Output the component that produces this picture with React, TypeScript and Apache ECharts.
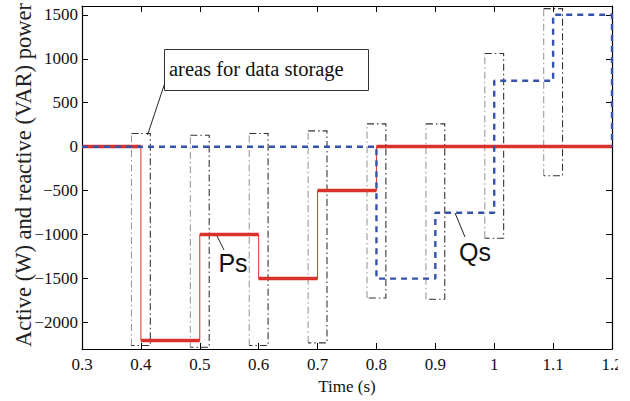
import React, { useEffect, useRef } from "react";
import * as echarts from "echarts";

// Active power Ps: value holds from psTimes[i] to psTimes[i+1]
const psTimes = [0.3, 0.4, 0.5, 0.6, 0.7, 0.8, 1.2];
const psValues = [0, -2200, -1000, -1500, -500, 0, 0];

// Reactive power Qs
const qsTimes = [0.3, 0.8, 0.9, 1.0, 1.1, 1.2, 1.2];
const qsValues = [0, -1500, -750, 750, 1500, 1500, 0];

// "areas for data storage" boxes (time centre, half width, top, bottom)
const boxCenters = [0.4, 0.5, 0.6, 0.7, 0.8, 0.9, 1.0, 1.1];
const boxHalfWidth = 0.016;
const boxTops = [150, 130, 150, 180, 260, 260, 1060, 1570];
const boxBottoms = [-2260, -2280, -2260, -2230, -1720, -1735, -1040, -330];

const yTickValues = [-2000, -1500, -1000, -500, 0, 500, 1000, 1500];

const RED = "#d9322b";
const BLUE = "#3553aa";
const SERIF = "Liberation Serif";
const SANS = "Liberation Sans";

const tickRich = { t: { fontFamily: SERIF, fontSize: 17, color: "#111" } };

export default function App() {
  const ref = useRef<HTMLDivElement>(null);

  useEffect(() => {
    if (!ref.current) return;
    const chart = echarts.init(ref.current, null, { renderer: "svg" });

    const psThin = psTimes.map((t, i) => [t, psValues[i]]);
    const psThick = psTimes.slice(0, -1).map((t, i) => ({
      coords: [
        [t, psValues[i]],
        [psTimes[i + 1], psValues[i]],
      ],
    }));
    const qsData = qsTimes.map((t, i) => [t, qsValues[i]]);

    const boxDark = boxCenters.map((c, i) => ({
      coords: [
        [c - boxHalfWidth, boxTops[i]],
        [c + boxHalfWidth, boxTops[i]],
        [c + boxHalfWidth, boxBottoms[i]],
        [c - boxHalfWidth, boxBottoms[i]],
      ],
    }));
    const boxLight = boxCenters.map((c, i) => ({
      coords: [
        [c - boxHalfWidth, boxBottoms[i]],
        [c - boxHalfWidth, boxTops[i]],
      ],
    }));

    const commonX = {
      type: "value" as const,
      min: 0.3,
      max: 1.2,
      interval: 0.1,
      splitLine: { show: false },
      axisLine: { show: true, onZero: false, lineStyle: { color: "#000", width: 1.2 } },
      axisTick: { show: true, inside: true, length: 6, lineStyle: { color: "#000" } },
    };
    const commonY = {
      type: "value" as const,
      min: -2300,
      max: 1600,
      interval: 100,
      splitLine: { show: false },
      axisLine: { show: true, onZero: false, lineStyle: { color: "#000", width: 1.2 } },
      axisTick: {
        show: true,
        inside: true,
        length: 6,
        customValues: yTickValues,
        lineStyle: { color: "#000" },
      },
    };

    chart.setOption({
      animation: false,
      backgroundColor: "#fff",
      grid: { left: 82, top: 6, right: 18, bottom: 52 },
      xAxis: [
        {
          ...commonX,
          position: "bottom",
          axisLabel: {
            show: true,
            margin: 7,
            formatter: (v: number) => "{t|" + String(Math.round(v * 10) / 10) + "}",
            rich: tickRich,
          },
        },
        {
          ...commonX,
          position: "top",
          axisLabel: { show: false },
        },
      ],
      yAxis: [
        {
          ...commonY,
          position: "left",
          axisLabel: {
            show: true,
            margin: 4,
            customValues: yTickValues,
            formatter: (v: number) =>
              "{t|" + (v < 0 ? "\u2212" + Math.abs(v) : String(v)) + "}",
            rich: tickRich,
          },
        },
        {
          ...commonY,
          position: "right",
          axisLabel: { show: false },
        },
      ],
      series: [
        {
          type: "lines",
          coordinateSystem: "cartesian2d",
          polyline: true,
          silent: true,
          z: 1,
          lineStyle: { color: "#9a9a9a", width: 1.1, type: [7, 3, 1.5, 3], opacity: 1 },
          data: boxLight,
        },
        {
          type: "lines",
          coordinateSystem: "cartesian2d",
          polyline: true,
          silent: true,
          z: 1,
          lineStyle: { color: "#333", width: 1.1, type: [7, 3, 1.5, 3], opacity: 1 },
          data: boxDark,
        },
        {
          type: "line",
          step: "end",
          data: psThin,
          symbol: "none",
          z: 2,
          silent: true,
          lineStyle: { color: RED, width: 1 },
        },
        {
          type: "lines",
          coordinateSystem: "cartesian2d",
          silent: true,
          z: 3,
          lineStyle: { color: RED, width: 3.4, opacity: 1 },
          data: psThick,
        },
        {
          type: "line",
          step: "end",
          data: qsData,
          symbol: "none",
          clip: false,
          z: 4,
          silent: true,
          lineStyle: { color: BLUE, width: 2.4, type: [6, 5] },
        },
      ],
      graphic: [
        {
          type: "text",
          x: 23,
          y: 175,
          rotation: Math.PI / 2,
          style: {
            text: "Active (W) and reactive (VAR) power",
            fontFamily: SERIF,
            fontSize: 22.5,
            fill: "#222",
            align: "center",
            verticalAlign: "middle",
          },
        },
        {
          type: "text",
          x: 347,
          y: 386,
          style: {
            text: "Time (s)",
            fontFamily: SERIF,
            fontSize: 17,
            fill: "#111",
            align: "center",
            verticalAlign: "middle",
          },
        },
        {
          type: "rect",
          shape: { x: 164.5, y: 49.5, width: 204, height: 41 },
          style: { fill: "#fff", stroke: "#333", lineWidth: 1 },
          z: 10,
        },
        {
          type: "text",
          x: 169,
          y: 69,
          z: 11,
          style: {
            text: "areas for data storage",
            fontFamily: SERIF,
            fontSize: 20.5,
            fill: "#111",
            align: "left",
            verticalAlign: "middle",
          },
        },
        {
          type: "line",
          z: 10,
          shape: { x1: 164.5, y1: 84, x2: 147.5, y2: 135 },
          style: { stroke: "#222", lineWidth: 1 },
        },
        {
          type: "line",
          z: 10,
          shape: { x1: 217, y1: 236, x2: 224, y2: 250 },
          style: { stroke: "#222", lineWidth: 1 },
        },
        {
          type: "text",
          x: 233,
          y: 263,
          z: 11,
          style: {
            text: "Ps",
            fontFamily: SANS,
            fontSize: 25,
            fill: "#111",
            align: "center",
            verticalAlign: "middle",
          },
        },
        {
          type: "line",
          z: 10,
          shape: { x1: 455, y1: 213, x2: 465, y2: 237 },
          style: { stroke: "#222", lineWidth: 1 },
        },
        {
          type: "text",
          x: 475,
          y: 252,
          z: 11,
          style: {
            text: "Qs",
            fontFamily: SANS,
            fontSize: 25,
            fill: "#111",
            align: "center",
            verticalAlign: "middle",
          },
        },
        {
          type: "rect",
          shape: { x: 618, y: 352, width: 12, height: 30 },
          style: { fill: "#fff" },
          z: 20,
        },
      ],
    });

    return () => chart.dispose();
  }, []);

  return (
    <div
      ref={ref}
      style={{ width: 630, height: 401, position: "absolute", left: 0, top: 0 }}
    />
  );
}
